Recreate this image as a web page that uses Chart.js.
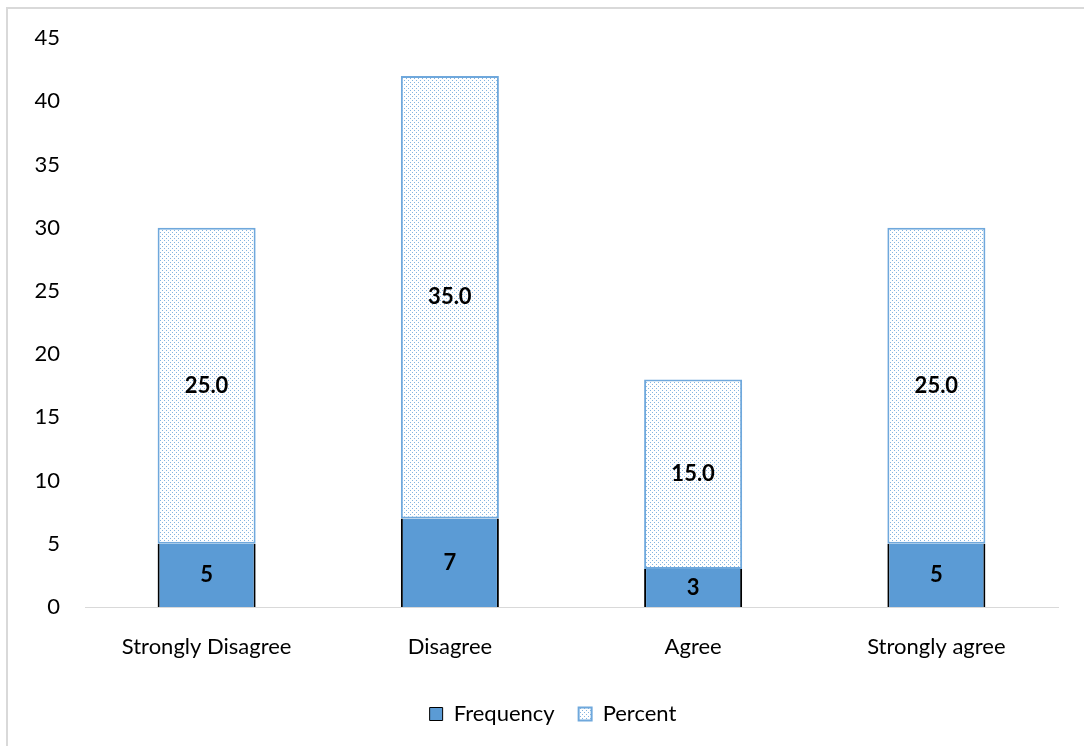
<!DOCTYPE html>
<html>
<head>
<meta charset="utf-8">
<script src="https://cdn.jsdelivr.net/npm/chart.js@4"></script>
<style>
  html, body { margin: 0; padding: 0; background: #fff; }
  #wrap { position: relative; width: 1084px; height: 746px; overflow: hidden; }
  #frame { position: absolute; left: 6px; top: 7px; width: 2000px; height: 2000px;
           border-left: 2px solid #d9d9d9; border-top: 2px solid #d9d9d9; }
  canvas { position: absolute; left: 0; top: 0; }
</style>
</head>
<body>
<div id="wrap">
  <div id="frame"></div>
  <canvas id="chart" width="1084" height="746"></canvas>
</div>
<script>
const categories = ['Strongly Disagree', 'Disagree', 'Agree', 'Strongly agree'];
const frequency = [5, 7, 3, 5];
const percent = [25.0, 35.0, 15.0, 25.0];
const yTicks = [0, 5, 10, 15, 20, 25, 30, 35, 40, 45];

const FONT = 'Lato, "Open Sans", sans-serif';
const FONT_SIZE = 22;

// Light dotted fill for the percent bars
function dotPattern() {
  const c = document.createElement('canvas');
  c.width = 4; c.height = 4;
  const g = c.getContext('2d');
  g.fillStyle = '#ffffff';
  g.fillRect(0, 0, 4, 4);
  g.fillStyle = 'rgba(91,155,213,0.75)';
  g.fillRect(0, 0, 1, 1);
  g.fillRect(2, 2, 1, 1);
  return g.createPattern(c, 'repeat');
}

// Value labels centred in each bar segment
const barLabels = {
  id: 'barLabels',
  afterDatasetsDraw(chart) {
    const ctx = chart.ctx;
    ctx.save();
    ctx.font = 'bold ' + FONT_SIZE + 'px ' + FONT;
    ctx.fillStyle = '#000';
    ctx.textAlign = 'center';
    ctx.textBaseline = 'middle';
    chart.data.datasets.forEach((ds, i) => {
      const meta = chart.getDatasetMeta(i);
      meta.data.forEach((bar, j) => {
        const v = ds.data[j];
        const text = ds.labelDigits ? v.toFixed(ds.labelDigits) : String(v);
        ctx.fillText(text, bar.x, (bar.y + bar.base) / 2);
      });
    });
    ctx.restore();
  }
};

// Nudge the legend box a little to the right of centre
const legendShift = {
  id: 'legendShift',
  afterLayout(chart) {
    const lg = chart.legend;
    if (lg) { lg.left += 24; lg.right += 24; }
  }
};

new Chart(document.getElementById('chart'), {
  type: 'bar',
  data: {
    labels: categories,
    datasets: [
      {
        label: 'Frequency',
        data: frequency,
        backgroundColor: '#5B9BD5',
        borderColor: '#000000',
        borderWidth: { left: 2, right: 2, top: 0, bottom: 0 },
        borderSkipped: false,
        labelDigits: 0
      },
      {
        label: 'Percent',
        data: percent,
        backgroundColor: dotPattern(),
        borderColor: '#6FA8DC',
        borderWidth: 2,
        borderSkipped: false,
        labelDigits: 1
      }
    ]
  },
  options: {
    responsive: false,
    animation: false,
    layout: { padding: { left: 0, right: 26, top: 37, bottom: 11 } },
    datasets: { bar: { categoryPercentage: 1, barPercentage: 0.403 } },
    scales: {
      x: {
        stacked: true,
        grid: { display: false, drawTicks: false },
        border: { display: true, color: '#d9d9d9', width: 1 },
        ticks: { color: '#000', font: { family: FONT, size: FONT_SIZE }, padding: 27 },
        afterFit(s) { s.height = 72; }
      },
      y: {
        stacked: true,
        min: 0, max: 45,
        afterBuildTicks(s) { s.ticks = yTicks.map(v => ({ value: v })); },
        grid: { display: false, drawTicks: false },
        border: { display: false },
        ticks: { color: '#000', font: { family: FONT, size: FONT_SIZE }, padding: 25 },
        afterFit(s) { s.width = 85; }
      }
    },
    plugins: {
      tooltip: { enabled: false },
      legend: {
        position: 'bottom',
        labels: {
          color: '#000',
          font: { family: FONT, size: FONT_SIZE },
          boxWidth: 13, boxHeight: 13,
          padding: 24
        }
      }
    }
  },
  plugins: [barLabels, legendShift]
});
</script>
</body>
</html>
